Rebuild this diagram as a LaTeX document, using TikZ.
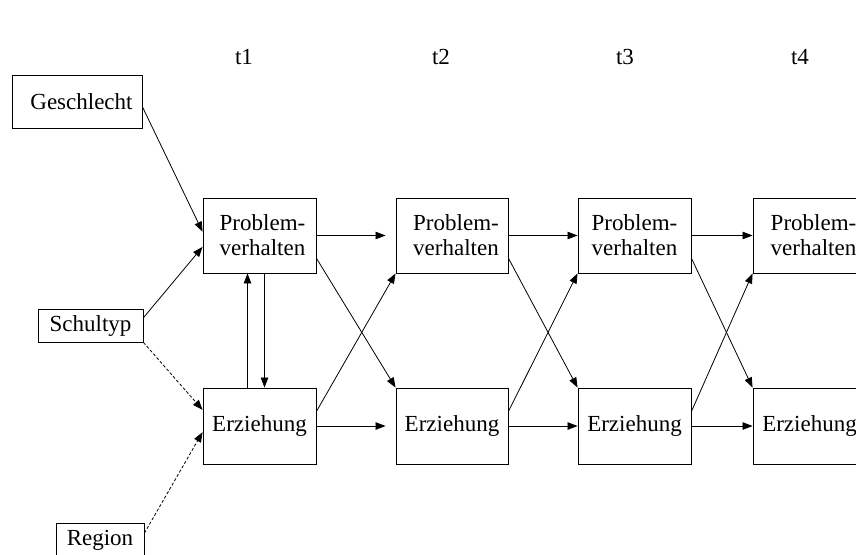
\documentclass[tikz,border=0pt]{standalone}
\usepackage{fontspec}
\setmainfont{Liberation Serif}
\usetikzlibrary{arrows.meta,calc}
\begin{document}
\begin{tikzpicture}[x=1pt,y=-1pt,
  box/.style={draw, line width=0.9pt, inner sep=0pt, align=center, font=\fontsize{23}{25}\selectfont},
  tbox/.style={box, minimum width=113pt, minimum height=75pt},
  arr/.style={line width=0.8pt, -{Triangle[length=10pt,width=7.5pt]}},
  dsh/.style={arr, dash pattern=on 3pt off 2pt},
  lab/.style={font=\fontsize{23}{25}\selectfont}]
\useasboundingbox (0,0) rectangle (856,554);
\fill[white] (0,0) rectangle (856,554);
\clip (0,0) rectangle (856,554);

% time labels
\node[lab] (l1) at (244,57) {t1};
\node[lab] (l2) at (441,57) {t2};
\node[lab] (l3) at (625,57) {t3};
\node[lab] (l4) at (800,57) {t4};

% exogenous boxes
\node[box, minimum width=130pt, minimum height=53pt] (g) at (77,101.5) {\hspace*{9pt}Geschlecht};
\node[box, minimum width=105pt, minimum height=33pt] (s) at (90.5,325.5) {Schultyp};
\node[box, minimum width=88pt, minimum height=34pt] (r) at (100,540) {Region};

% time boxes
\node[tbox] (p1) at (259.5,235.5) {\hspace*{6pt}Problem-\\\hspace*{6pt}verhalten};
\node[tbox, minimum width=112pt] (p2) at (452,235.5) {\hspace*{8pt}Problem-\\\hspace*{8pt}verhalten};
\node[tbox] (p3) at (634.5,235.5) {Problem-\\verhalten};
\node[tbox] (p4) at (809.5,235.5) {\hspace*{8pt}Problem-\\\hspace*{8pt}verhalten};
\node[tbox, minimum height=76pt] (e1) at (259.5,426) {Erziehung};
\node[tbox, minimum width=112pt, minimum height=76pt] (e2) at (452,426) {Erziehung};
\node[tbox, minimum height=76pt] (e3) at (634.5,426) {Erziehung};
\node[tbox, minimum height=76pt] (e4) at (809.5,426) {Erziehung};

% horizontal arrows
\draw[arr, shorten >=10pt] (p1.east) -- (p2.west);
\draw[arr] (p2.east) -- (p3.west);
\draw[arr] (p3.east) -- (p4.west);
\draw[arr, shorten >=10pt] (e1.east) -- (e2.west);
\draw[arr] (e2.east) -- (e3.west);
\draw[arr] (e3.east) -- (e4.west);

% cross-lagged arrows
\draw[arr] ($(p1.north east)!0.8!(p1.south east)$) -- (e2.north west);
\draw[arr] ($(e1.north east)!0.31!(e1.south east)$) -- (p2.south west);
\draw[arr] ($(p2.north east)!0.8!(p2.south east)$) -- (e3.north west);
\draw[arr] ($(e2.north east)!0.31!(e2.south east)$) -- (p3.south west);
\draw[arr] ($(p3.north east)!0.8!(p3.south east)$) -- (e4.north west);
\draw[arr] ($(e3.north east)!0.31!(e3.south east)$) -- (p4.south west);

% reciprocal arrows at t1
\draw[arr] ([xshift=-12pt]e1.north) -- ([xshift=-12pt]p1.south);
\draw[arr] ([xshift=5pt]p1.south) -- ([xshift=5pt]e1.north);

% exogenous effects
\draw[arr] ($(g.north east)!0.6!(g.south east)$) -- ($(p1.north west)!0.45!(p1.south west)$);
\draw[arr] ($(s.north east)!0.27!(s.south east)$) -- ($(p1.north west)!0.65!(p1.south west)$);
\draw[dsh] (s.south east) -- ($(e1.north west)!0.29!(e1.south west)$);
\draw[dsh] ($(r.north east)!0.3!(r.south east)$) -- ($(e1.north west)!0.58!(e1.south west)$);
\end{tikzpicture}
\end{document}
